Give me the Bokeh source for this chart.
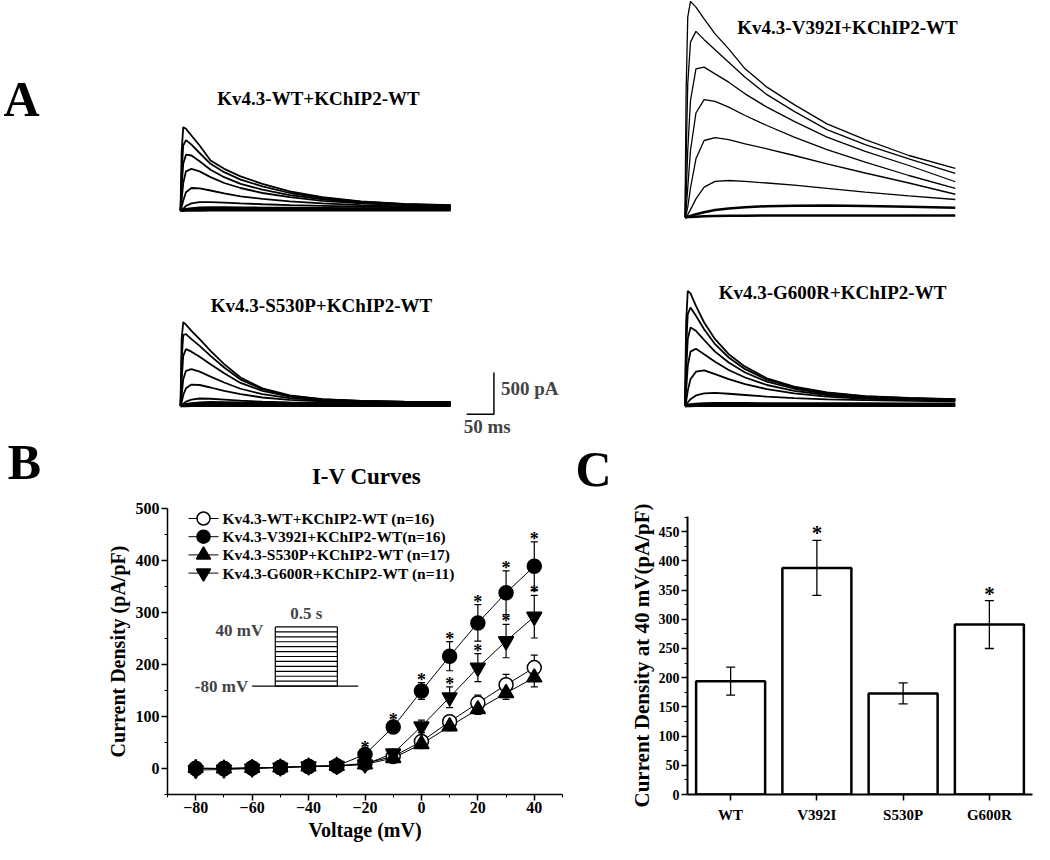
import numpy as np
from bokeh.plotting import figure
from bokeh.layouts import column, row
from bokeh.models import (Range1d, FactorRange, Label, Whisker,
                          ColumnDataSource, FixedTicker, TeeHead)
from bokeh.core.properties import value
from bokeh.embed import file_html
from bokeh.resources import INLINE

FONT = "Liberation Serif"

# ---------------- Panel A: current traces (pA) read at sample times (ms) ----------------
T_MS = [0, 2, 5, 10, 20, 35, 55, 80, 110, 150, 200, 260, 330, 410, 495]

WT_TRACES = [
    [0, 700, 1000, 980, 900, 780, 600, 500, 410, 320, 230, 160, 110, 80, 65],
    [0, 450, 780, 845, 790, 690, 560, 460, 370, 290, 210, 150, 105, 75, 60],
    [0, 280, 560, 670, 660, 590, 490, 400, 320, 250, 185, 135, 95, 70, 55],
    [0, 120, 330, 470, 500, 470, 400, 330, 270, 210, 160, 115, 85, 65, 50],
    [0, 40, 120, 220, 270, 265, 240, 205, 170, 140, 110, 85, 65, 50, 45],
    [0, 5, 20, 55, 85, 100, 100, 95, 85, 75, 65, 55, 45, 40, 35],
    [0, 2, 5, 12, 22, 30, 32, 32, 30, 28, 26, 24, 22, 20, 20],
    [0, 0, 1, 2, 3, 4, 5, 5, 5, 5, 5, 5, 5, 5, 5],
]
V392I_TRACES = [
    [0, 1500, 2400, 2590, 2520, 2380, 2200, 2020, 1780, 1560, 1350, 1120, 930, 740, 585],
    [0, 700, 1600, 2100, 2230, 2130, 2010, 1860, 1680, 1470, 1270, 1050, 870, 700, 525],
    [0, 250, 800, 1400, 1780, 1800, 1720, 1620, 1480, 1320, 1150, 960, 790, 620, 425],
    [0, 100, 350, 800, 1250, 1410, 1390, 1320, 1220, 1100, 960, 810, 660, 500, 345],
    [0, 30, 120, 350, 700, 920, 955, 930, 880, 820, 740, 640, 530, 410, 275],
    [0, 5, 30, 90, 220, 360, 430, 440, 430, 410, 385, 345, 300, 255, 212],
    [0, 0, 5, 15, 35, 60, 85, 105, 120, 132, 138, 140, 135, 125, 112],
    [0, 0, 1, 3, 6, 10, 14, 16, 18, 19, 20, 20, 20, 20, 20],
]
S530P_TRACES = [
    [0, 800, 1005, 975, 900, 800, 660, 500, 340, 210, 125, 80, 60, 50, 45],
    [0, 550, 850, 860, 800, 720, 600, 460, 315, 200, 120, 78, 58, 48, 42],
    [0, 300, 600, 680, 650, 590, 500, 390, 275, 180, 110, 72, 55, 46, 40],
    [0, 120, 320, 420, 440, 410, 350, 280, 205, 140, 92, 65, 50, 42, 38],
    [0, 40, 130, 210, 255, 250, 220, 180, 140, 100, 72, 55, 45, 38, 35],
    [0, 8, 25, 50, 75, 88, 85, 75, 62, 50, 42, 36, 32, 30, 28],
    [0, 3, 8, 15, 25, 35, 40, 38, 35, 30, 28, 26, 25, 24, 24],
    [0, 0, 1, 2, 3, 4, 5, 5, 5, 5, 5, 5, 5, 5, 5],
]
G600R_TRACES = [
    [0, 1000, 1380, 1350, 1200, 1000, 800, 620, 470, 330, 230, 160, 115, 95, 80],
    [0, 700, 1100, 1180, 1080, 920, 740, 580, 440, 315, 220, 155, 112, 92, 78],
    [0, 400, 800, 940, 900, 790, 650, 520, 400, 290, 205, 145, 105, 88, 75],
    [0, 180, 480, 650, 685, 620, 530, 430, 340, 250, 180, 130, 96, 82, 70],
    [0, 50, 180, 320, 410, 425, 380, 320, 260, 200, 150, 110, 85, 72, 65],
    [0, 10, 40, 80, 125, 150, 155, 145, 130, 110, 92, 78, 68, 60, 55],
    [0, 2, 6, 12, 18, 24, 28, 28, 27, 26, 25, 24, 24, 23, 23],
    [0, 0, 1, 2, 3, 4, 5, 5, 5, 5, 5, 5, 5, 5, 5],
]
TRACE_TITLES = ["Kv4.3-WT+KChIP2-WT", "Kv4.3-V392I+KChIP2-WT",
                "Kv4.3-S530P+KChIP2-WT", "Kv4.3-G600R+KChIP2-WT"]
SCALE_MS = 50
SCALE_PA = 500

# ---------------- Panel B: I-V curves ----------------
VOLTAGES = [-80, -70, -60, -50, -40, -30, -20, -10, 0, 10, 20, 30, 40]
WT_MEAN = [0, 0, 1, 2, 4, 5, 10, 23, 52, 90, 126, 161, 194]
WT_ERR = [2, 2, 2, 2, 2, 3, 4, 6, 8, 10, 15, 20, 24]
V392I_MEAN = [0, 0, 1, 2, 4, 5, 27, 80, 149, 216, 280, 338, 389]
V392I_ERR = [2, 2, 2, 2, 2, 3, 6, 8, 16, 28, 35, 42, 47]
S530P_MEAN = [1, 0, 1, 2, 4, 5, 8, 20, 47, 81, 114, 145, 175]
S530P_ERR = [3, 3, 2, 2, 2, 3, 4, 5, 7, 8, 10, 12, 18]
G600R_MEAN = [-3, -2, 0, 2, 4, 5, 8, 29, 81, 137, 194, 245, 292]
G600R_ERR = [3, 3, 2, 2, 2, 3, 4, 8, 12, 20, 27, 32, 41]
V392I_SIG = [-20, -10, 0, 10, 20, 30, 40]
G600R_SIG = [10, 20, 30, 40]
LEGEND_LABELS = ["Kv4.3-WT+KChIP2-WT (n=16)", "Kv4.3-V392I+KChIP2-WT(n=16)",
                 "Kv4.3-S530P+KChIP2-WT (n=17)", "Kv4.3-G600R+KChIP2-WT (n=11)"]
PROTO_HOLD = -80
PROTO_PULSE_S = 0.5

# ---------------- Panel C: current density at 40 mV ----------------
GROUPS = ["WT", "V392I", "S530P", "G600R"]
DENSITY_40 = [194, 388, 173, 291]
DENSITY_40_ERR = [24, 47, 18, 41]
DENSITY_SIG = ["V392I", "G600R"]


def screen_label(p, x, y, text, size, align="center", baseline="middle"):
    p.add_layout(Label(x=x, y=y, x_units="screen", y_units="screen", text=text,
                       text_font=FONT, text_font_style="bold", text_font_size=size,
                       text_align=align, text_baseline=baseline, text_color="black"))


def style_axes(p, tick_size):
    for ax in p.axis:
        ax.axis_line_color = "black"
        ax.major_tick_line_color = "black"
        ax.minor_tick_line_color = "black"
        ax.major_tick_in = 0
        ax.minor_tick_in = 0
        ax.major_tick_out = 6
        ax.minor_tick_out = 3
        ax.major_label_text_font = FONT
        ax.major_label_text_font_style = "bold"
        ax.major_label_text_font_size = tick_size
        ax.major_label_text_color = "black"
        ax.axis_label_text_font = FONT
        ax.axis_label_text_font_style = "bold"
        ax.axis_label_text_color = "black"
        ax.major_label_standoff = 2


# ======================= Panel A figure (also hosts the B / C letters) =======================
A_H = 497
PX_MS, PX_PA = 1.8315, 12.0          # ms per pixel, pA per pixel
X0_MS, YTOP_PA = -329.7, 4864.0
pa = figure(width=1034, height=A_H, x_range=Range1d(X0_MS, X0_MS + 1034 * PX_MS),
            y_range=Range1d(YTOP_PA - A_H * PX_PA, YTOP_PA),
            output_backend="svg", toolbar_location=None, min_border=0,
            x_axis_location=None, y_axis_location=None)
pa.outline_line_color = None
pa.grid.visible = False

trace_origins = [(0, 2344), (924, 2264), (0, 0), (924, 0)]
trace_widths = [1.8, 1.3, 1.8, 1.8]
for traces, (ox, oy), lw in zip([WT_TRACES, V392I_TRACES, S530P_TRACES, G600R_TRACES],
                                trace_origins, trace_widths):
    t = np.array(T_MS, dtype=float) + ox
    xs = [t for _ in traces]
    ys = [np.array(tr, dtype=float) + oy for tr in traces]
    pa.multi_line(xs[:-2], ys[:-2], line_color="black", line_width=lw)
    pa.multi_line(xs[-2:], ys[-2:], line_color="black", line_width=lw + 1.2)

SB_X, SB_Y = 574, -100
pa.line([SB_X - SCALE_MS, SB_X, SB_X], [SB_Y, SB_Y, SB_Y + SCALE_PA],
        line_color="black", line_width=1.5)
pa.add_layout(Label(x=SB_X, y=SB_Y + SCALE_PA / 2, x_offset=7, y_offset=5,
                    text=f"{SCALE_PA} pA", text_font=FONT, text_font_style="bold",
                    text_font_size="19px", text_baseline="middle", text_align="left"))
pa.add_layout(Label(x=SB_X - SCALE_MS / 2, y=SB_Y, x_offset=7, y_offset=-12,
                    text=f"{SCALE_MS} ms", text_font=FONT, text_font_style="bold",
                    text_font_size="19px", text_baseline="middle", text_align="center"))

screen_label(pa, 21, A_H - 98, "A", "50px")
for (x, y), ttl in zip([(318, 98), (847, 27), (321, 305), (832, 292)], TRACE_TITLES):
    screen_label(pa, x, A_H - y, ttl, "19px")
screen_label(pa, 24, A_H - 461, "B", "50px")
screen_label(pa, 593, A_H - 468, "C", "50px")
screen_label(pa, 366, A_H - 476, "I-V Curves", "23px")

# ======================= Panel B figure =======================
BC_H = 844 - A_H
B_TOP, B_BOTTOM, B_LEFT, B_W = 11, 50, 167, 395
B_FRAME_H = BC_H - B_TOP - B_BOTTOM
pb = figure(width=600, height=BC_H, x_range=Range1d(-90, 50), y_range=Range1d(-50, 500),
            output_backend="svg", toolbar_location=None,
            min_border_left=B_LEFT, min_border_right=600 - B_LEFT - B_W,
            min_border_top=B_TOP, min_border_bottom=B_BOTTOM)
# pixel ranges for the legend box (x from frame left, y from frame top)
pb.extra_x_ranges = {"lx": Range1d(0, B_W)}
pb.extra_y_ranges = {"ly": Range1d(B_FRAME_H, 0)}
pb.outline_line_color = None
pb.grid.visible = False
pb.xaxis.ticker = FixedTicker(ticks=[-80, -60, -40, -20, 0, 20, 40],
                              minor_ticks=[-90, -70, -50, -30, -10, 10, 30, 50])
pb.yaxis.ticker = FixedTicker(ticks=[0, 100, 200, 300, 400, 500],
                              minor_ticks=[-50, 50, 150, 250, 350, 450])
style_axes(pb, "16px")
pb.xaxis.axis_label = "Voltage (mV)"
pb.yaxis.axis_label = "Current Density (pA/pF)"
pb.axis.axis_label_text_font_size = "20px"
pb.yaxis.axis_label_standoff = 4
pb.xaxis.axis_label_standoff = 3
pb.xaxis.major_label_standoff = 1
pb.axis.axis_line_width = 1.5
pb.axis.major_tick_line_width = 1.5

series = [
    (WT_MEAN, WT_ERR, "circle", "white", 14),
    (V392I_MEAN, V392I_ERR, "circle", "black", 14),
    (S530P_MEAN, S530P_ERR, "triangle", "black", 15),
    (G600R_MEAN, G600R_ERR, "inverted_triangle", "black", 15),
]
for mean, err, _, _, _ in series:
    up = [m + e for m, e in zip(mean, err)]
    lo = [m - e for m, e in zip(mean, err)]
    src = ColumnDataSource(dict(v=VOLTAGES, upper=up, lower=lo))
    pb.add_layout(Whisker(source=src, base="v", upper="upper", lower="lower",
                          line_color="black", line_width=1.2,
                          upper_head=TeeHead(size=7, line_width=1.2, line_color="black"),
                          lower_head=TeeHead(size=7, line_width=1.2, line_color="black")))
    pb.line(VOLTAGES, mean, line_color="black", line_width=1)
for mean, err, marker, fill, size in series:
    pb.scatter(VOLTAGES, mean, marker=marker, size=size, fill_color=fill,
               line_color="black", line_width=1.5)

for sig, mean, err in [(V392I_SIG, V392I_MEAN, V392I_ERR), (G600R_SIG, G600R_MEAN, G600R_ERR)]:
    sy = [mean[VOLTAGES.index(v)] + err[VOLTAGES.index(v)] for v in sig]
    pb.text(x=sig, y=sy, text=["*"] * len(sig), text_font=value(FONT), text_font_style="bold",
            text_font_size="18px", text_align="center", text_baseline="middle",
            y_offset=-3, text_color="black")

# legend box (pixel layout inside the frame)
LEG_X0, LEG_GLYPH_W, LEG_STANDOFF = 21, 30, 4
LEG_ROW0, LEG_PITCH = 10, 18.2
leg_rows = [LEG_ROW0 + i * LEG_PITCH for i in range(len(LEGEND_LABELS))]
pb.multi_line([[LEG_X0, LEG_X0 + LEG_GLYPH_W] for _ in leg_rows], [[y, y] for y in leg_rows],
              line_color="black", line_width=1, x_range_name="lx", y_range_name="ly")
for (mean, err, marker, fill, size), y in zip(series, leg_rows):
    pb.scatter([LEG_X0 + LEG_GLYPH_W / 2], [y], marker=marker, size=size - 1,
               fill_color=fill, line_color="black", line_width=1.5,
               x_range_name="lx", y_range_name="ly")
pb.text(x=[LEG_X0 + LEG_GLYPH_W + LEG_STANDOFF] * len(leg_rows), y=leg_rows,
        text=LEGEND_LABELS, text_font=value(FONT), text_font_style="bold",
        text_font_size="15.5px", text_align="left", text_baseline="middle",
        text_color="black", x_range_name="lx", y_range_name="ly")

# stimulation protocol inset (drawn in panel B data space)
INSET_X0, INSET_XS = -51.8, 44.0      # x position of pulse start, x units per second
INSET_Y0, INSET_YS = 158.5, 0.9475    # y position of holding level, y units per mV
PRE_S, POST_S = 0.186, 0.168


def ix(t):
    return INSET_X0 + t * INSET_XS


def iy(v):
    return INSET_Y0 + (v - PROTO_HOLD) * INSET_YS


top_v = max(VOLTAGES)
pxs = [[ix(-PRE_S), ix(PROTO_PULSE_S + POST_S)],
       [ix(0), ix(0)], [ix(PROTO_PULSE_S), ix(PROTO_PULSE_S)]]
pys = [[iy(PROTO_HOLD), iy(PROTO_HOLD)], [iy(PROTO_HOLD), iy(top_v)], [iy(PROTO_HOLD), iy(top_v)]]
for v in VOLTAGES:
    pxs.append([ix(0), ix(PROTO_PULSE_S)])
    pys.append([iy(v), iy(v)])
pb.multi_line(pxs, pys, line_color="black", line_width=1.2)
pb.add_layout(Label(x=ix(0), y=iy(top_v), x_offset=-12, y_offset=-4, text=f"{top_v} mV",
                    text_font=FONT, text_font_style="bold", text_font_size="17px",
                    text_align="right", text_baseline="middle"))
pb.add_layout(Label(x=ix(-PRE_S), y=iy(PROTO_HOLD), x_offset=-4, text=f"{PROTO_HOLD} mV",
                    text_font=FONT, text_font_style="bold", text_font_size="17px",
                    text_align="right", text_baseline="middle"))
pb.add_layout(Label(x=ix(PROTO_PULSE_S / 2), y=iy(top_v), y_offset=13, text=f"{PROTO_PULSE_S} s",
                    text_font=FONT, text_font_style="bold", text_font_size="17px",
                    text_align="center", text_baseline="middle"))

# ======================= Panel C figure =======================
pc = figure(width=434, height=BC_H, x_range=FactorRange(*GROUPS), y_range=Range1d(0, 476),
            output_backend="svg", toolbar_location=None,
            min_border_left=87, min_border_right=2, min_border_top=19, min_border_bottom=50)
pc.outline_line_color = None
pc.grid.visible = False
pc.yaxis.ticker = FixedTicker(ticks=list(range(0, 451, 50)), minor_ticks=list(range(25, 476, 50)))
style_axes(pc, "14px")
pc.xaxis.major_label_text_font_size = "15px"
pc.yaxis.axis_label = "Current Density at 40 mV(pA/pF)"
pc.yaxis.axis_label_text_font_size = "21px"
pc.yaxis.axis_label_standoff = 2
pc.axis.axis_line_width = 2
pc.axis.major_tick_line_width = 1.5
pc.xaxis.major_label_standoff = 6

pc.vbar(x=GROUPS, top=DENSITY_40, width=0.8, fill_color="white", line_color="black",
        line_width=2.5)
csrc = ColumnDataSource(dict(g=GROUPS,
                             upper=[m + e for m, e in zip(DENSITY_40, DENSITY_40_ERR)],
                             lower=[m - e for m, e in zip(DENSITY_40, DENSITY_40_ERR)]))
pc.add_layout(Whisker(source=csrc, base="g", upper="upper", lower="lower",
                      line_color="black", line_width=1.3, level="glyph",
                      upper_head=TeeHead(size=9, line_width=1.3, line_color="black"),
                      lower_head=TeeHead(size=9, line_width=1.3, line_color="black")))
sig_y = [DENSITY_40[GROUPS.index(g)] + DENSITY_40_ERR[GROUPS.index(g)] for g in DENSITY_SIG]
pc.text(x=DENSITY_SIG, y=sig_y, text=["*"] * len(DENSITY_SIG), text_font=value(FONT),
        text_font_style="bold", text_font_size="21px", text_align="center",
        text_baseline="middle", y_offset=-7, text_color="black")

# keep each plot's own frame (do not align B and C frames to each other)
for p in (pb, pc):
    if "frame_align" in p.properties():
        p.frame_align = False

layout = column(pa, row(pb, pc))
open("out.html", "w").write(file_html(layout, INLINE))
